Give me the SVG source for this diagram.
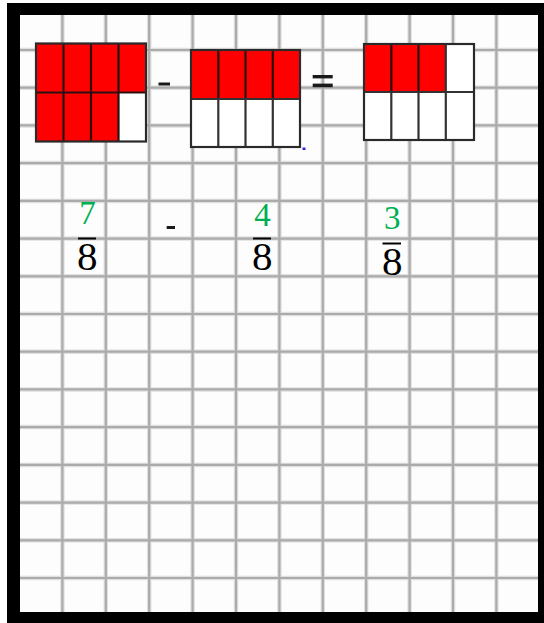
<svg xmlns="http://www.w3.org/2000/svg" width="544" height="623" viewBox="0 0 544 623">
<defs>
<filter id="soft" x="-5%" y="-5%" width="110%" height="110%"><feGaussianBlur stdDeviation="0.6"/></filter>
<style>
.gl{stroke:#ababab;stroke-width:2.2;fill:none}
.glh{stroke:#e0e0e0;stroke-width:4.5;fill:none}
.red{fill:#ff0000}
.wh{fill:#ffffff}
.ol{fill:none;stroke:#2a2a2a;stroke-width:2.2}
.dv{stroke:#2a1010;stroke-width:2.2}
.dvw{stroke:#333;stroke-width:2.2}
.num{font-family:"Liberation Serif","Times New Roman",serif;font-size:33px;fill:#00b050;text-anchor:middle}
.den{font-family:"Liberation Serif","Times New Roman",serif;font-size:41px;fill:#000;text-anchor:middle}
.bar{stroke:#000;stroke-width:2}
.op{fill:#1a1a1a}
</style>
</defs>
<rect x="0" y="0" width="544" height="623" fill="#ffffff"/>
<g id="frame">
<rect x="7" y="3" width="537" height="620" fill="#000"/>
<rect x="20" y="15" width="518" height="597" fill="#fdfdfd"/>
</g>
<g id="grid">
<g class="glh">
<path d="M62.4 15V612M105.8 15V612M149.2 15V612M192.6 15V612M236 15V612M279.4 15V612M322.8 15V612M366.2 15V612M409.6 15V612M453 15V612M496.4 15V612"/>
<path d="M20 50H538M20 87.7H538M20 125.4H538M20 163.1H538M20 200.9H538M20 238.6H538M20 276.3H538M20 314H538M20 351.7H538M20 389.4H538M20 427.1H538M20 464.9H538M20 502.6H538M20 540.3H538M20 578H538"/>
</g>
<g class="gl">
<path d="M62.4 15V612M105.8 15V612M149.2 15V612M192.6 15V612M236 15V612M279.4 15V612M322.8 15V612M366.2 15V612M409.6 15V612M453 15V612M496.4 15V612"/>
<path d="M20 50H538M20 87.7H538M20 125.4H538M20 163.1H538M20 200.9H538M20 238.6H538M20 276.3H538M20 314H538M20 351.7H538M20 389.4H538M20 427.1H538M20 464.9H538M20 502.6H538M20 540.3H538M20 578H538"/>
</g>
</g>
<g id="box-7-8">
<rect class="red" x="36" y="43.5" width="110" height="98"/>
<rect class="wh" x="118.5" y="92.5" width="27.5" height="49"/>
<g filter="url(#soft)">
<path class="dv" d="M63.5 43.5V141.5M91 43.5V141.5M118.5 43.5V141.5M36 92.5H146"/>
<rect class="ol" x="36" y="43.5" width="110" height="98"/>
</g>
</g>
<g id="minus-1"><rect class="op" x="158.5" y="82.5" width="11.5" height="3"/></g>
<g id="box-4-8">
<rect class="wh" x="191" y="50" width="109" height="97"/>
<rect class="red" x="191" y="50" width="109" height="49"/>
<g filter="url(#soft)">
<path class="dv" d="M218.3 50V99M245.5 50V99M272.8 50V99"/>
<path class="dvw" d="M218.3 99V147M245.5 99V147M272.8 99V147M191 99H300"/>
<rect class="ol" x="191" y="50" width="109" height="97"/>
</g>
<rect x="302.5" y="147.5" width="3" height="2.5" fill="#2a2ae0"/>
</g>
<g id="equals">
<rect class="op" x="312.7" y="75" width="20" height="3.4"/>
<rect class="op" x="312.7" y="83.6" width="20" height="3.6"/>
</g>
<g id="box-3-8">
<rect class="wh" x="364" y="44" width="110" height="96"/>
<rect class="red" x="364" y="44" width="82" height="48"/>
<g filter="url(#soft)">
<path class="dv" d="M391.3 44V92M418.5 44V92"/>
<path class="dvw" d="M445.8 44V140M391.3 92V140M418.5 92V140M364 92H474"/>
<rect class="ol" x="364" y="44" width="110" height="96"/>
</g>
</g>
<g id="frac-7-8">
<text class="num" x="87.5" y="224">7</text>
<line class="bar" x1="78" y1="238.5" x2="96" y2="238.5"/>
<text class="den" x="87.3" y="270">8</text>
</g>
<g id="minus-2"><rect class="op" x="166.7" y="226" width="8.3" height="3"/></g>
<g id="frac-4-8">
<text class="num" x="262.5" y="226">4</text>
<line class="bar" x1="253" y1="238.5" x2="271" y2="238.5"/>
<text class="den" x="262.3" y="269.5">8</text>
</g>
<g id="frac-3-8">
<text class="num" x="392.3" y="228.5">3</text>
<line class="bar" x1="382.5" y1="243.5" x2="401" y2="243.5"/>
<text class="den" x="392.3" y="274.5">8</text>
</g>
</svg>
